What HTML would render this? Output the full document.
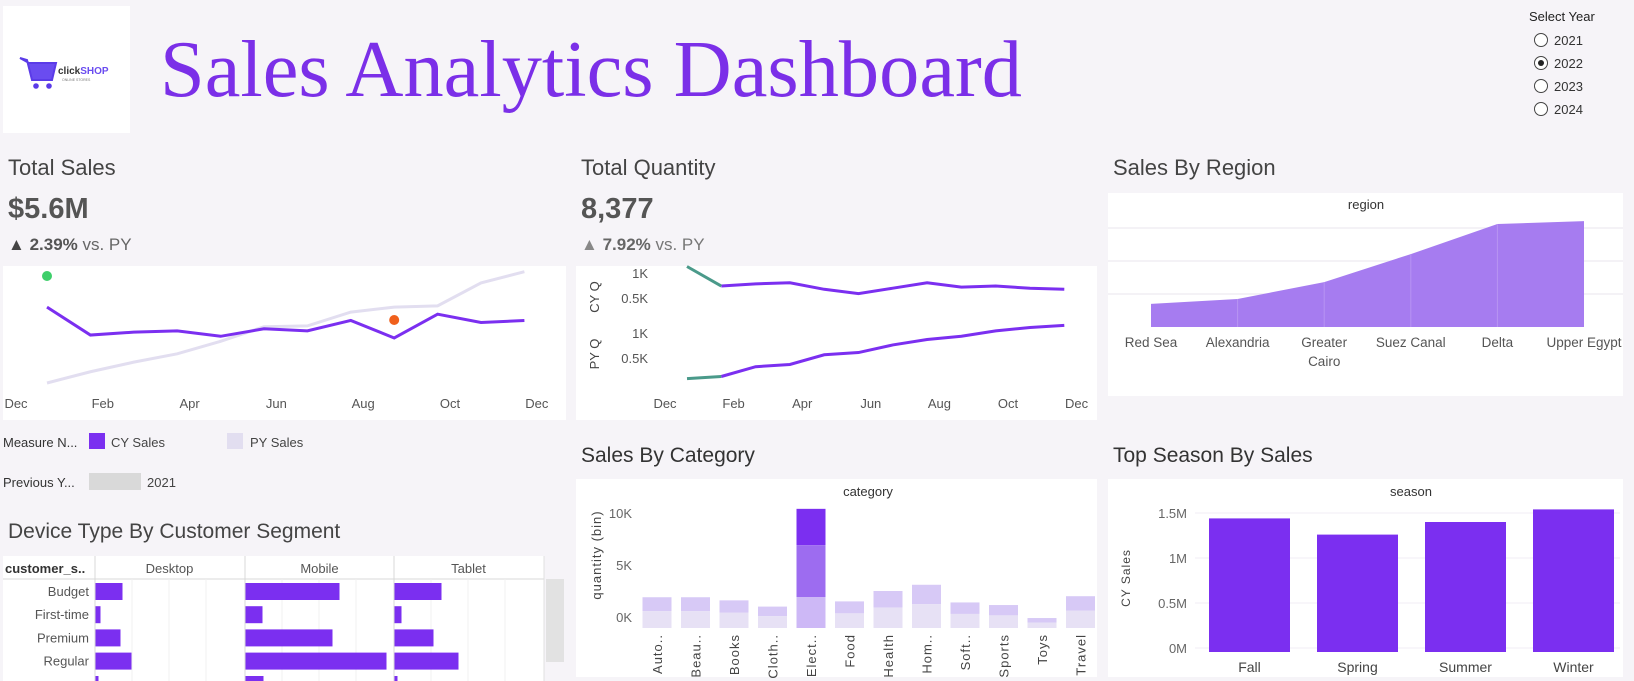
<!DOCTYPE html>
<html><head><meta charset="utf-8"><style>
html,body{margin:0;padding:0;background:#f6f4f8;}
svg{display:block;font-family:"Liberation Sans",sans-serif;}
</style></head><body>
<svg id="s" width="1634" height="681" viewBox="0 0 1634 681" xmlns="http://www.w3.org/2000/svg">
<rect x="0" y="0" width="1634" height="681" fill="#f6f4f8"/>
<g>
<rect x="3" y="6" width="127" height="127" fill="#ffffff"/>
<path d="M20 58 L27 60 L32 80 L52 80 L56 63 L29 63 Z" fill="#6a4cf0" stroke="#5b3be8" stroke-width="2"/>
<circle cx="36" cy="86" r="2.8" fill="#5b3be8"/><circle cx="49" cy="86" r="2.8" fill="#5b3be8"/>
<text x="58" y="74" font-size="10" font-weight="bold" fill="#333">click<tspan fill="#6a4cf0">SHOP</tspan></text>
<text x="62" y="81" font-size="3.5" fill="#777">ONLINE STORES</text>
</g>
<text x="160" y="96" font-family="Liberation Serif, serif" font-size="80" fill="#7b2fe8" textLength="862" lengthAdjust="spacingAndGlyphs">Sales Analytics Dashboard</text>
<g>
<text x="1529" y="21" font-size="13" fill="#222">Select Year</text>
<g><circle cx="1541" cy="40" r="6.5" fill="#fff" stroke="#444"/><text x="1554" y="45" font-size="13" fill="#333">2021</text></g>
<g><circle cx="1541" cy="63" r="6.5" fill="#fff" stroke="#444"/><circle cx="1541" cy="63" r="3" fill="#222"/><text x="1554" y="68" font-size="13" fill="#333">2022</text></g>
<g><circle cx="1541" cy="86" r="6.5" fill="#fff" stroke="#444"/><text x="1554" y="91" font-size="13" fill="#333">2023</text></g>
<g><circle cx="1541" cy="109" r="6.5" fill="#fff" stroke="#444"/><text x="1554" y="114" font-size="13" fill="#333">2024</text></g>
</g>
<text x="8" y="175" font-size="22" fill="#444">Total Sales</text>
<text x="8" y="218" font-size="29" font-weight="bold" fill="#555">$5.6M</text>
<text x="8" y="250" font-size="17" fill="#666"><tspan fill="#444">▲</tspan> <tspan font-weight="bold" fill="#555">2.39%</tspan> vs. PY</text>
<text x="581" y="175" font-size="22" fill="#444">Total Quantity</text>
<text x="581" y="218" font-size="29" font-weight="bold" fill="#555">8,377</text>
<text x="581" y="250" font-size="17" fill="#777"><tspan fill="#888">▲</tspan> <tspan font-weight="bold" fill="#666">7.92%</tspan> vs. PY</text>
<text x="1113" y="175" font-size="22" fill="#444">Sales By Region</text>
<text x="581" y="462" font-size="21" fill="#333">Sales By Category</text>
<text x="1113" y="462" font-size="21" fill="#333">Top Season By Sales</text>
<text x="8" y="538" font-size="21" fill="#444">Device Type By Customer Segment</text>
<rect x="3" y="266" width="563" height="154" fill="#fff"/>
<rect x="576" y="266" width="521" height="154" fill="#fff"/>
<rect x="1108" y="193" width="515" height="203" fill="#fff"/>
<rect x="576" y="479" width="521" height="198" fill="#fff"/>
<rect x="1108" y="479" width="515" height="198" fill="#fff"/>
<g>
<text x="3" y="447" font-size="13" fill="#333">Measure N...</text>
<rect x="89" y="433" width="16" height="16" fill="#7b2ff0"/>
<text x="111" y="447" font-size="13" fill="#444">CY Sales</text>
<rect x="227" y="433" width="16" height="16" fill="#e2def0"/>
<text x="250" y="447" font-size="13" fill="#444">PY Sales</text>
<text x="3" y="487" font-size="13" fill="#333">Previous Y...</text>
<rect x="89" y="473" width="52" height="17" fill="#d9d9d9"/>
<text x="147" y="487" font-size="13" fill="#444">2021</text>
</g>
<g id="g1"></g><g id="g2"></g><g id="g3"></g><g id="g4"></g><g id="g5"></g><g id="g6"></g>
</svg>
<script>
const NS="http://www.w3.org/2000/svg";
function mk(p,t,a,txt){const e=document.createElementNS(NS,t);for(const k in a)e.setAttribute(k,a[k]);if(txt!==undefined)e.textContent=txt;p.appendChild(e);return e;}
// ---- data ----
const months=["Jan","Feb","Mar","Apr","May","Jun","Jul","Aug","Sep","Oct","Nov","Dec"];
const monthTicks=["Dec","Feb","Apr","Jun","Aug","Oct","Dec"];
const cySales=[482,415,422,425,412,430,425,450,408,465,445,450];
const pySales=[300,327,350,370,400,435,437,470,482,485,540,567];
const cyQty=[1130,739,783,804,674,587,696,804,717,739,696,674];
const pyQty=[87,130,326,370,565,609,761,870,935,1043,1109,1152];
const qtyTicks=[1000,500];
const qtyTickLabels=["1K","0.5K"];
const regions=["Red Sea","Alexandria","Greater Cairo","Suez Canal","Delta","Upper Egypt"];
const regionSales=[0.70,0.85,1.36,2.21,3.12,3.21];
const regionGrid=[1,2,3];
const categories=["Auto..","Beau..","Books","Cloth..","Elect..","Food","Health","Hom..","Soft..","Sports","Toys","Travel"];
const categoryQty=[1.9,1.9,1.6,1.0,10.4,1.5,2.5,3.1,1.4,1.15,-0.1,2.0];
const catTicks=[10,5,0];
const catTickLabels=["10K","5K","0K"];
const seasons=["Fall","Spring","Summer","Winter"];
const seasonSales=[1.44,1.26,1.40,1.54];
const seasonTicks=[1.5,1,0.5,0];
const seasonTickLabels=["1.5M","1M","0.5M","0M"];
const segments=["Budget","First-time","Premium","Regular"];
const devices=["Desktop","Mobile","Tablet"];
const desktopCounts=[27,5,25,36];
const mobileCounts=[94,17,87,141];
const tabletCounts=[47,7,39,64];
const PURPLE="#7b2ff0";
// ---- sales trend ----
(function(){const g=document.getElementById('g1');
const x=i=>47+i*43.4, y=v=>383-(v-300)*0.417;
monthTicks.forEach((m,k)=>{const t=mk(g,'text',{x:16+k*86.8,y:408,'font-size':13,fill:'#555','text-anchor':'middle'},m);
});
const pl=mk(g,'polyline',{points:pySales.map((v,i)=>x(i)+','+y(v)).join(' '),fill:'none',stroke:'#e2def0','stroke-width':3});

const cl=mk(g,'polyline',{points:cySales.map((v,i)=>x(i)+','+y(v)).join(' '),fill:'none',stroke:PURPLE,'stroke-width':3});

const hi=mk(g,'circle',{cx:x(0),cy:276,r:5,fill:'#3ecf6a'});

const lo=mk(g,'circle',{cx:x(8),cy:320,r:5,fill:'#f0601c'});

})();
// ---- quantity trend ----
(function(){const g=document.getElementById('g2');
const x=i=>687+i*34.3, yc=v=>323-v*0.05, yp=v=>383-v*0.05;
let t=mk(g,'text',{transform:'translate(599,297) rotate(-90)','font-size':13,fill:'#444','text-anchor':'middle'},'CY Q');

t=mk(g,'text',{transform:'translate(599,354) rotate(-90)','font-size':13,fill:'#444','text-anchor':'middle'},'PY Q');

qtyTicks.forEach((v,k)=>{let a=mk(g,'text',{x:648,y:yc(v)+5,'font-size':13,fill:'#555','text-anchor':'end'},qtyTickLabels[k]);

a=mk(g,'text',{x:648,y:yp(v)+5,'font-size':13,fill:'#555','text-anchor':'end'},qtyTickLabels[k]);
});
monthTicks.forEach((m,k)=>{const a=mk(g,'text',{x:665+k*68.6,y:408,'font-size':13,fill:'#555','text-anchor':'middle'},m);
});
[[cyQty,yc,'cy-quantity-line'],[pyQty,yp,'py-quantity-line']].forEach(([d,f,n])=>{
const l=mk(g,'polyline',{points:d.slice(1).map((v,i)=>x(i+1)+','+f(v)).join(' '),fill:'none',stroke:PURPLE,'stroke-width':3});

const s=mk(g,'line',{x1:x(0),y1:f(d[0]),x2:x(1),y2:f(d[1]),stroke:'#4a9a8a','stroke-width':3});
});
})();
// ---- region ----
(function(){const g=document.getElementById('g3');
const x=i=>1151+i*86.6, y=v=>327-v*33;
let t=mk(g,'text',{x:1366,y:209,'font-size':13,fill:'#333','text-anchor':'middle'},'region');

regionGrid.forEach(v=>{const l=mk(g,'line',{x1:1108,x2:1623,y1:y(v),y2:y(v),stroke:'#f0eef4','stroke-width':1.5});
});
const pts=regionSales.map((v,i)=>x(i)+','+y(v)).join(' ');
const a=mk(g,'polygon',{points:x(0)+','+y(0)+' '+pts+' '+x(5)+','+y(0),fill:'#a67cf0'});

regionSales.forEach((v,i)=>{if(i>0&&i<5){const l=mk(g,'line',{x1:x(i),x2:x(i),y1:y(v),y2:y(0),stroke:'#b894f3','stroke-width':1});
}});
regions.forEach((r,i)=>{const parts=r==="Greater Cairo"?["Greater","Cairo"]:[r];
parts.forEach((p,k)=>{const tt=mk(g,'text',{x:x(i),y:347+k*19,'font-size':13.5,fill:'#555','text-anchor':'middle'},p);
});});
})();
// ---- category ----
(function(){const g=document.getElementById('g4');
const x=i=>657+i*38.5, y=v=>617-v*10.4, floor=628, w=29;
let t=mk(g,'text',{x:868,y:496,'font-size':13,fill:'#333','text-anchor':'middle'},'category');

t=mk(g,'text',{transform:'translate(601,555) rotate(-90)','font-size':13,fill:'#444','text-anchor':'middle','letter-spacing':'1'},'quantity (bin)');

catTicks.forEach((v,k)=>{const a=mk(g,'text',{x:632,y:y(v)+5,'font-size':13,fill:'#666','text-anchor':'end'},catTickLabels[k]);
});
categoryQty.forEach((v,i)=>{const x0=x(i)-w/2, top=y(v);
if(v>5){[[top,y(6.9),'#7b2ff0'],[y(6.9),y(1.9),'#9d6cf0'],[y(1.9),floor,'#cdb8f6']].forEach(([a,b,c])=>{
const r=mk(g,'rect',{x:x0,y:a,width:w,height:b-a,fill:c});});}
else{const mid=Math.min(floor,top+(floor-top)*0.45);
let r=mk(g,'rect',{x:x0,y:top,width:w,height:mid-top,fill:'#d7c9f6'});
r=mk(g,'rect',{x:x0,y:mid,width:w,height:floor-mid,fill:'#e7e1f5'});}
const l=mk(g,'text',{transform:'translate('+(x(i)+5)+',634) rotate(-90)','font-size':13,fill:'#444','text-anchor':'end','letter-spacing':'1'},categories[i]);
});
})();
// ---- season ----
(function(){const g=document.getElementById('g5');
const x=i=>1249.5+i*108, y=v=>648-v*90, w=81;
let t=mk(g,'text',{x:1411,y:496,'font-size':13,fill:'#333','text-anchor':'middle'},'season');

t=mk(g,'text',{transform:'translate(1130,578) rotate(-90)','font-size':12,fill:'#444','text-anchor':'middle','letter-spacing':'1'},'CY Sales');

seasonTicks.forEach((v,k)=>{const l=mk(g,'line',{x1:1195,x2:1620,y1:y(v),y2:y(v),stroke:'#f0eef4'});

const a=mk(g,'text',{x:1187,y:y(v)+5,'font-size':13,fill:'#666','text-anchor':'end'},seasonTickLabels[k]);
});
seasonSales.forEach((v,i)=>{const r=mk(g,'rect',{x:x(i)-w/2,y:y(v),width:w,height:y(0)-y(v)+4,fill:PURPLE});

const l=mk(g,'text',{x:x(i),y:672,'font-size':14,fill:'#444','text-anchor':'middle'},seasons[i]);
});
})();
// ---- device table ----
(function(){const g=document.getElementById('g6');
const cols=[95,245,394], cw=149, rowY=i=>583+i*23.2, bx=v=>v;
const bg=mk(g,'rect',{x:3,y:556,width:541,height:125,fill:'#fff'});
let t=mk(g,'text',{x:5,y:573,'font-size':13,fill:'#333','font-weight':'bold'},'customer_s..');

const hl=mk(g,'line',{x1:3,x2:544,y1:579,y2:579,stroke:'#d8d8d8'});
devices.forEach((d,c)=>{const a=mk(g,'text',{x:cols[c]+cw/2,y:573,'font-size':13,fill:'#555','text-anchor':'middle'},d);

const l=mk(g,'line',{x1:cols[c],x2:cols[c],y1:556,y2:681,stroke:'#d8d8d8'});
for(let k=1;k<4;k++){const gl=mk(g,'line',{x1:cols[c]+k*37,x2:cols[c]+k*37,y1:579,y2:681,stroke:'#f0f0f0'});
}});
const ld=mk(g,'line',{x1:544,x2:544,y1:556,y2:681,stroke:'#e0e0e0'});
const data=[desktopCounts,mobileCounts,tabletCounts];
segments.forEach((s,i)=>{const a=mk(g,'text',{x:89,y:rowY(i)+13,'font-size':13,fill:'#555','text-anchor':'end'},s);

data.forEach((arr,c)=>{const r=mk(g,'rect',{x:cols[c]+0.5,y:rowY(i),width:bx(arr[i]),height:17,fill:PURPLE});
});});
[[95,3],[245,18],[394,3]].forEach(([x0,w])=>{const r=mk(g,'rect',{x:x0+0.5,y:676,width:w,height:5,fill:PURPLE});
});
const sb=mk(g,'rect',{x:546,y:579,width:18,height:83,fill:'#e2e2e2'});
})();
</script>
</body></html>
